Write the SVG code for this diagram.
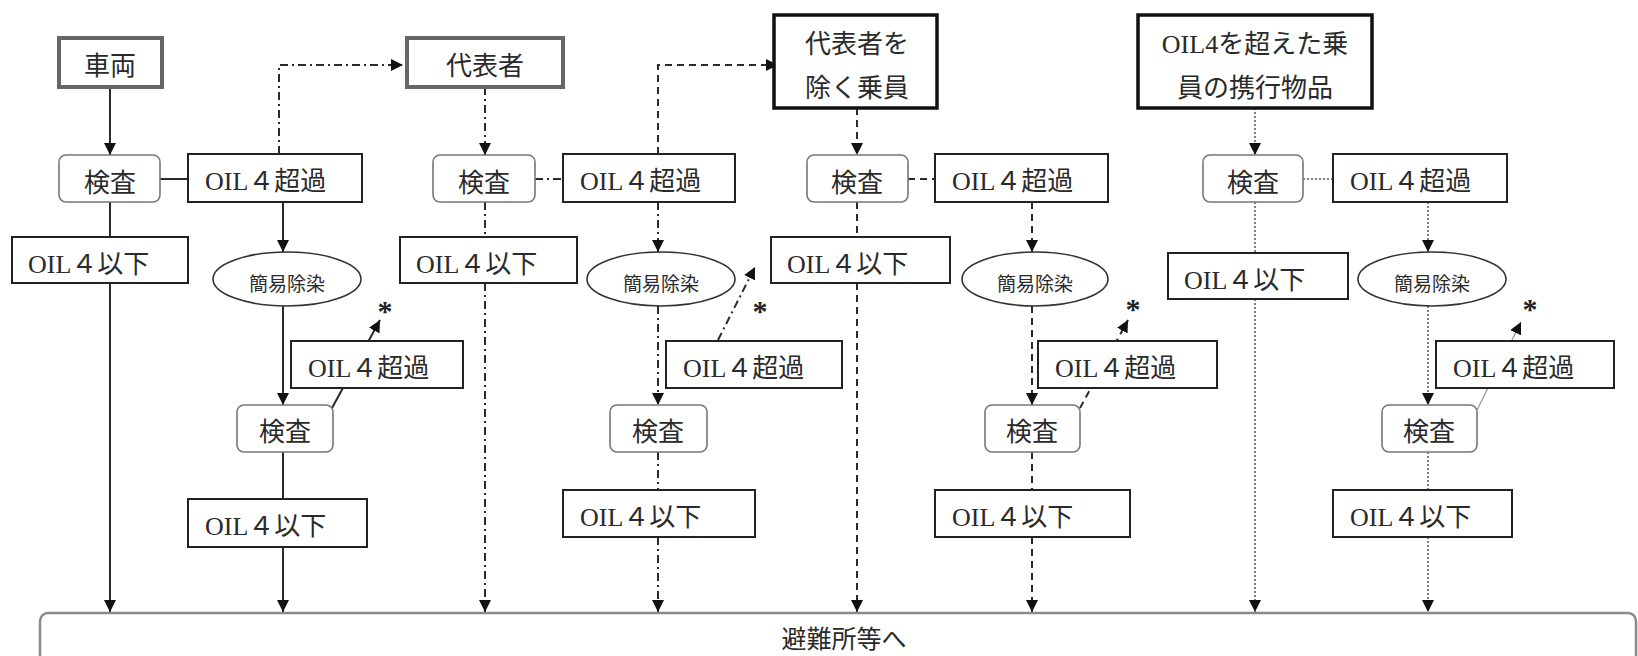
<svg xmlns="http://www.w3.org/2000/svg" width="1638" height="656" viewBox="0 0 1638 656">
<style>
  text { font-family: "Liberation Serif", "Noto Sans CJK JP", serif; fill: #2a2a2a; }
  .lbl { font-size: 26px; }
  .mid { text-anchor: middle; }
  .sm { font-size: 19px; text-anchor: middle; }
  .ast { font-size: 30px; text-anchor: middle; fill: #222; font-weight: bold; }
  .box { fill: #fff; stroke: #222; stroke-width: 2; }
  .gbox { fill: #fff; stroke: #666; stroke-width: 4; }
  .tbox { fill: #fff; stroke: #111; stroke-width: 3.5; }
  .chk { fill: #fff; stroke: #777; stroke-width: 1.6; }
  .ell { fill: #fff; stroke: #333; stroke-width: 1.6; }
  .dest { fill: #fff; stroke: #8a8a8a; stroke-width: 2.5; }
  .c { fill: none; stroke: #2a2a2a; stroke-width: 2; }
  .solid { }
  .dashdot { stroke-dasharray: 8 4 2 4; }
  .dash { stroke-dasharray: 7 5; }
  .dot { stroke: #555; stroke-width: 1.5; stroke-dasharray: 2 2; }
  .thin { stroke: #999; stroke-width: 1.2; }
</style>
<defs>
  <marker id="ah" markerUnits="userSpaceOnUse" markerWidth="12" markerHeight="12" refX="12" refY="6" orient="auto">
    <path d="M0,0 L12,6 L0,12 z" fill="#111"/>
  </marker>
</defs>

<g id="connectors">
  <!-- column 1 solid -->
  <line class="c solid" x1="110" y1="87" x2="110" y2="155" marker-end="url(#ah)"/>
  <line class="c solid" x1="110" y1="202" x2="110" y2="237"/>
  <line class="c solid" x1="110" y1="283" x2="110" y2="612" marker-end="url(#ah)"/>
  <line class="c solid" x1="160" y1="179" x2="188" y2="179"/>
  <line class="c solid" x1="283" y1="202" x2="283" y2="252" marker-end="url(#ah)"/>
  <line class="c solid" x1="283" y1="306" x2="283" y2="405" marker-end="url(#ah)"/>
  <line class="c solid" x1="283" y1="452" x2="283" y2="499"/>
  <line class="c solid" x1="283" y1="547" x2="283" y2="612" marker-end="url(#ah)"/>
  <line class="c solid" x1="332" y1="408" x2="380" y2="320" marker-end="url(#ah)"/>
  <polyline class="c dashdot" points="279,154 279,65 403,65" marker-end="url(#ah)"/>

  <!-- column 2 dash-dot -->
  <line class="c dashdot" x1="485" y1="87" x2="485" y2="155" marker-end="url(#ah)"/>
  <line class="c dashdot" x1="485" y1="202" x2="485" y2="237"/>
  <line class="c dashdot" x1="485" y1="283" x2="485" y2="612" marker-end="url(#ah)"/>
  <line class="c dashdot" x1="535" y1="179" x2="563" y2="179"/>
  <line class="c dashdot" x1="658" y1="202" x2="658" y2="252" marker-end="url(#ah)"/>
  <line class="c dashdot" x1="658" y1="306" x2="658" y2="405" marker-end="url(#ah)"/>
  <line class="c dashdot" x1="658" y1="452" x2="658" y2="490"/>
  <line class="c dashdot" x1="658" y1="537" x2="658" y2="612" marker-end="url(#ah)"/>
  <line class="c dashdot" x1="718" y1="340" x2="755" y2="267" marker-end="url(#ah)"/>
  <polyline class="c dash" points="658,154 658,65 778,65" marker-end="url(#ah)"/>

  <!-- column 3 dashed -->
  <line class="c dash" x1="857" y1="108" x2="857" y2="155" marker-end="url(#ah)"/>
  <line class="c dash" x1="857" y1="202" x2="857" y2="237"/>
  <line class="c dash" x1="857" y1="283" x2="857" y2="612" marker-end="url(#ah)"/>
  <line class="c dash" x1="908" y1="179" x2="935" y2="179"/>
  <line class="c dash" x1="1032" y1="202" x2="1032" y2="252" marker-end="url(#ah)"/>
  <line class="c dash" x1="1032" y1="306" x2="1032" y2="405" marker-end="url(#ah)"/>
  <line class="c dash" x1="1032" y1="452" x2="1032" y2="490"/>
  <line class="c dash" x1="1032" y1="537" x2="1032" y2="612" marker-end="url(#ah)"/>
  <line class="c dash" x1="1080" y1="408" x2="1128" y2="320" marker-end="url(#ah)"/>

  <!-- column 4 dotted -->
  <line class="c dot" x1="1255" y1="108" x2="1255" y2="155" marker-end="url(#ah)"/>
  <line class="c dot" x1="1255" y1="202" x2="1255" y2="253"/>
  <line class="c dot" x1="1255" y1="299" x2="1255" y2="612" marker-end="url(#ah)"/>
  <line class="c dot" x1="1303" y1="179" x2="1333" y2="179"/>
  <line class="c dot" x1="1428" y1="202" x2="1428" y2="252" marker-end="url(#ah)"/>
  <line class="c dot" x1="1428" y1="306" x2="1428" y2="405" marker-end="url(#ah)"/>
  <line class="c dot" x1="1428" y1="452" x2="1428" y2="490"/>
  <line class="c dot" x1="1428" y1="537" x2="1428" y2="612" marker-end="url(#ah)"/>
  <line class="c thin" x1="1477" y1="410" x2="1521" y2="322" marker-end="url(#ah)"/>
</g>

<!-- destination -->
<g id="dest">
  <rect class="dest" x="40" y="613" width="1596" height="70" rx="8"/>
  <text class="mid" x="844" y="648" style="font-size:25px">避難所等へ</text>
</g>

<!-- column 1 -->
<g id="n-vehicle"><rect class="gbox" x="59" y="38" width="103" height="49"/><text class="lbl mid" x="110" y="75">車両</text></g>
<g id="n-chk1"><rect class="chk" x="59" y="155" width="101" height="47" rx="7"/><text class="lbl mid" x="110" y="192">検査</text></g>
<g id="n-over1"><rect class="box" x="188" y="154" width="174" height="48"/><text class="lbl" x="205" y="190">OIL４超過</text></g>
<g id="n-below1"><rect class="box" x="12" y="237" width="176" height="46"/><text class="lbl" x="28" y="273">OIL４以下</text></g>
<g id="n-decon1"><ellipse class="ell" cx="287" cy="279" rx="74" ry="27"/><text class="sm" x="287" y="291">簡易除染</text></g>
<g id="n-over1b"><rect class="box" x="291" y="341" width="172" height="47"/><text class="lbl" x="308" y="377">OIL４超過</text></g>
<g id="n-ast1"><text class="ast" x="385" y="321">*</text></g>
<g id="n-chk1b"><rect class="chk" x="237" y="405" width="96" height="47" rx="7"/><text class="lbl mid" x="285" y="441">検査</text></g>
<g id="n-below1b"><rect class="box" x="188" y="499" width="179" height="48"/><text class="lbl" x="205" y="535">OIL４以下</text></g>

<!-- column 2 -->
<g id="n-rep"><rect class="gbox" x="407" y="38" width="156" height="49"/><text class="lbl mid" x="485" y="75">代表者</text></g>
<g id="n-chk2"><rect class="chk" x="433" y="155" width="102" height="47" rx="7"/><text class="lbl mid" x="484" y="192">検査</text></g>
<g id="n-over2"><rect class="box" x="563" y="154" width="172" height="48"/><text class="lbl" x="580" y="190">OIL４超過</text></g>
<g id="n-below2"><rect class="box" x="400" y="237" width="177" height="46"/><text class="lbl" x="416" y="273">OIL４以下</text></g>
<g id="n-decon2"><ellipse class="ell" cx="661" cy="279" rx="74" ry="27"/><text class="sm" x="661" y="291">簡易除染</text></g>
<g id="n-over2b"><rect class="box" x="666" y="341" width="176" height="47"/><text class="lbl" x="683" y="377">OIL４超過</text></g>
<g id="n-ast2"><text class="ast" x="760" y="321">*</text></g>
<g id="n-chk2b"><rect class="chk" x="610" y="405" width="97" height="47" rx="7"/><text class="lbl mid" x="658" y="441">検査</text></g>
<g id="n-below2b"><rect class="box" x="563" y="490" width="192" height="47"/><text class="lbl" x="580" y="526">OIL４以下</text></g>

<!-- column 3 -->
<g id="n-crew"><rect class="tbox" x="774" y="15" width="163" height="93"/><text class="lbl mid" x="857" y="53">代表者を</text><text class="lbl mid" x="857" y="97">除く乗員</text></g>
<g id="n-chk3"><rect class="chk" x="807" y="155" width="101" height="47" rx="7"/><text class="lbl mid" x="857" y="192">検査</text></g>
<g id="n-over3"><rect class="box" x="935" y="154" width="173" height="48"/><text class="lbl" x="952" y="190">OIL４超過</text></g>
<g id="n-below3"><rect class="box" x="771" y="237" width="179" height="46"/><text class="lbl" x="787" y="273">OIL４以下</text></g>
<g id="n-decon3"><ellipse class="ell" cx="1035" cy="279" rx="73" ry="27"/><text class="sm" x="1035" y="291">簡易除染</text></g>
<g id="n-over3b"><rect class="box" x="1038" y="341" width="179" height="47"/><text class="lbl" x="1055" y="377">OIL４超過</text></g>
<g id="n-ast3"><text class="ast" x="1133" y="319">*</text></g>
<g id="n-chk3b"><rect class="chk" x="985" y="405" width="95" height="47" rx="7"/><text class="lbl mid" x="1032" y="441">検査</text></g>
<g id="n-below3b"><rect class="box" x="935" y="490" width="195" height="47"/><text class="lbl" x="952" y="526">OIL４以下</text></g>

<!-- column 4 -->
<g id="n-items"><rect class="tbox" x="1138" y="15" width="234" height="93"/><text class="lbl mid" x="1255" y="53">OIL4を超えた乗</text><text class="lbl mid" x="1255" y="97">員の携行物品</text></g>
<g id="n-chk4"><rect class="chk" x="1203" y="155" width="100" height="47" rx="7"/><text class="lbl mid" x="1253" y="192">検査</text></g>
<g id="n-over4"><rect class="box" x="1333" y="154" width="174" height="48"/><text class="lbl" x="1350" y="190">OIL４超過</text></g>
<g id="n-below4"><rect class="box" x="1168" y="253" width="180" height="46"/><text class="lbl" x="1184" y="289">OIL４以下</text></g>
<g id="n-decon4"><ellipse class="ell" cx="1432" cy="279" rx="74" ry="27"/><text class="sm" x="1432" y="291">簡易除染</text></g>
<g id="n-over4b"><rect class="box" x="1436" y="341" width="178" height="47"/><text class="lbl" x="1453" y="377">OIL４超過</text></g>
<g id="n-ast4"><text class="ast" x="1530" y="319">*</text></g>
<g id="n-chk4b"><rect class="chk" x="1382" y="405" width="95" height="47" rx="7"/><text class="lbl mid" x="1429" y="441">検査</text></g>
<g id="n-below4b"><rect class="box" x="1333" y="490" width="179" height="47"/><text class="lbl" x="1350" y="526">OIL４以下</text></g>
</svg>
